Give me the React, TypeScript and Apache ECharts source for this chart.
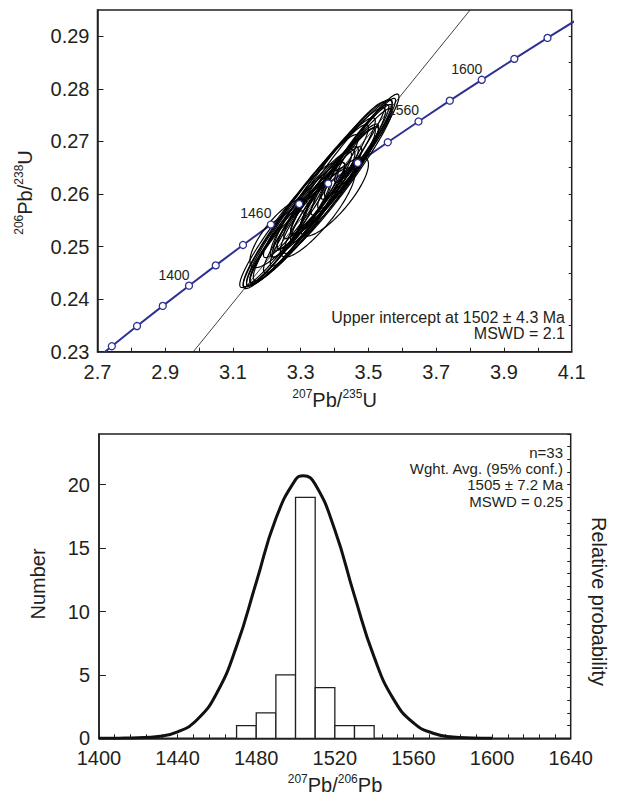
import React, { useEffect, useRef } from 'react';
import * as echarts from 'echarts';

// ---------- Concordia diagram data ----------
const concordiaAges = [1320, 1340, 1360, 1380, 1400, 1420, 1440, 1460, 1480, 1500, 1520, 1540, 1560, 1580, 1600, 1620, 1640, 1660];
const concordiaX = [2.6693, 2.7423, 2.8167, 2.8927, 2.9701, 3.0491, 3.1296, 3.2118, 3.2955, 3.381, 3.4681, 3.557, 3.6477, 3.7401, 3.8344, 3.9306, 4.0286, 4.1287];
const concordiaY = [0.22723, 0.23104, 0.23488, 0.23871, 0.24256, 0.24642, 0.2503, 0.25418, 0.25808, 0.26199, 0.26591, 0.26984, 0.27379, 0.27775, 0.28172, 0.2857, 0.28969, 0.2937];
const labeledAges = [1400, 1460, 1560, 1600];

const discordiaX = [2.983, 3.8];
const discordiaY = [0.23, 0.295];

// error ellipses: centre, 2-sigma half extents, correlation
const ellipseCx = [3.35, 3.235, 3.4, 3.35, 3.42, 3.31, 3.38, 3.29, 3.45, 3.27, 3.37, 3.32, 3.41, 3.46, 3.24, 3.35, 3.3, 3.39, 3.4, 3.33, 3.26, 3.48, 3.36, 3.31, 3.44, 3.28, 3.4, 3.37, 3.23, 3.49, 3.34, 3.41, 3.3];
const ellipseCy = [0.26, 0.2525, 0.2595, 0.2565, 0.265, 0.256, 0.2622, 0.2545, 0.2665, 0.2528, 0.2605, 0.257, 0.263, 0.268, 0.251, 0.2592, 0.2552, 0.2612, 0.2645, 0.2585, 0.254, 0.2692, 0.2612, 0.255, 0.265, 0.2555, 0.2618, 0.2598, 0.25, 0.2702, 0.2588, 0.2625, 0.2568];
const ellipseSx = [0.22, 0.085, 0.1, 0.11, 0.15, 0.15, 0.17, 0.14, 0.12, 0.12, 0.1, 0.09, 0.11, 0.1, 0.1, 0.08, 0.085, 0.09, 0.15, 0.19, 0.14, 0.11, 0.14, 0.12, 0.09, 0.09, 0.13, 0.16, 0.08, 0.09, 0.11, 0.16, 0.17];
const ellipseSy = [0.018, 0.0065, 0.0075, 0.0085, 0.0128, 0.0125, 0.0142, 0.0115, 0.0105, 0.01, 0.0085, 0.0075, 0.0095, 0.009, 0.0085, 0.0068, 0.0072, 0.0078, 0.013, 0.016, 0.0118, 0.0098, 0.012, 0.01, 0.0078, 0.0076, 0.011, 0.0135, 0.0068, 0.008, 0.0092, 0.0138, 0.0145];
const ellipseRho = [0.965, 0.8, 0.82, 0.86, 0.95, 0.94, 0.95, 0.94, 0.95, 0.94, 0.93, 0.93, 0.94, 0.95, 0.94, 0.93, 0.93, 0.93, 0.96, 0.96, 0.95, 0.95, 0.95, 0.94, 0.93, 0.93, 0.95, 0.96, 0.93, 0.95, 0.94, 0.965, 0.96];

// ---------- Histogram data ----------
const binStarts = [1470, 1480, 1490, 1500, 1510, 1520, 1530];
const binEnds = [1480, 1490, 1500, 1510, 1520, 1530, 1540];
const binCounts = [1, 2, 5, 19, 4, 1, 1];

const probAges = [1400, 1410, 1420, 1430, 1440, 1450, 1460, 1470, 1480, 1490, 1500, 1504, 1510, 1520, 1530, 1540, 1550, 1560, 1570, 1580, 1590, 1600];
const probValues = [0.0, 0.01, 0.04, 0.15, 0.51, 1.48, 3.59, 7.27, 12.29, 17.33, 20.4, 20.7, 20.04, 16.42, 11.23, 6.4, 3.05, 1.21, 0.4, 0.11, 0.03, 0.0];

const FONT = '"Liberation Sans", Arial, Helvetica, sans-serif';
const INK = '#231F20';
const BLUE = '#2E3192';

export default function App() {
  const ref = useRef<HTMLDivElement>(null);

  useEffect(() => {
    document.body.style.margin = '0';
    if (!ref.current) return;
    const chart = echarts.init(ref.current, undefined, { renderer: 'svg' });

    const concLine = concordiaX.map((x, i) => [x, concordiaY[i]]);
    const markers = concordiaAges
      .map((age, i) => ({ age, x: concordiaX[i], y: concordiaY[i] }))
      .filter((d) => d.x >= 2.7 && d.x <= 4.1 && d.y >= 0.23 && d.y <= 0.295)
      .map((d) => ({
        value: [d.x, d.y],
        label: labeledAges.includes(d.age) ? { show: true, formatter: String(d.age) } : { show: false },
      }));
    const ellipses = ellipseCx.map((cx, i) => [cx, ellipseCy[i], ellipseSx[i], ellipseSy[i], ellipseRho[i]]);
    const bins = binStarts.map((s, i) => [s, binEnds[i], binCounts[i]]);
    const prob = probAges.map((a, i) => [a, probValues[i]]);

    const axisLabel = (margin: number, fmt?: (v: number) => string) => ({
      fontSize: 20,
      fontFamily: FONT,
      color: INK,
      margin,
      formatter: fmt,
      showMaxLabel: false,
    });
    const line = { show: true, lineStyle: { color: INK, width: 1.5 } };
    const supRich = {
      s: { fontSize: 12, fontFamily: FONT, fill: INK, lineHeight: 12, verticalAlign: 'top' },
      m: { fontSize: 20, fontFamily: FONT, fill: INK, lineHeight: 24 },
    };

    const option: any = {
      animation: false,
      grid: [
        { left: 97.5, top: 10, width: 474.2, height: 341.7, show: true, borderColor: INK, borderWidth: 1.5, backgroundColor: 'transparent' },
        { left: 99, top: 434, width: 471.7, height: 304.3, show: true, borderColor: INK, borderWidth: 1.5, backgroundColor: 'transparent' },
      ],
      xAxis: [
        {
          type: 'value', gridIndex: 0, min: 2.7, max: 4.1, interval: 0.2,
          axisLine: line,
          axisTick: { show: true, inside: true, length: 4, lineStyle: { color: INK, width: 1 } },
          minorTick: { show: true, splitNumber: 2, length: 4, lineStyle: { color: INK, width: 1 } },
          axisLabel: { ...axisLabel(10, (v: number) => v.toFixed(1)), showMaxLabel: true },
          splitLine: { show: false },
        },
        {
          type: 'value', gridIndex: 1, min: 1400, max: 1640, interval: 40,
          axisLine: line,
          axisTick: { show: true, inside: true, length: 4, lineStyle: { color: INK, width: 1 } },
          minorTick: { show: true, splitNumber: 5, length: 4, lineStyle: { color: INK, width: 1 } },
          axisLabel: { ...axisLabel(10, (v: number) => String(Math.round(v))), showMaxLabel: true },
          splitLine: { show: false },
        },
      ],
      yAxis: [
        {
          type: 'value', gridIndex: 0, min: 0.23, max: 0.295, interval: 0.01,
          axisLine: line,
          axisTick: { show: true, inside: true, length: 6, lineStyle: { color: INK, width: 1 } },
          axisLabel: axisLabel(8, (v: number) => v.toFixed(2)),
          splitLine: { show: false },
        },
        {
          type: 'value', gridIndex: 0, min: 0.23, max: 0.295, interval: 0.005,
          axisLine: { show: false },
          axisTick: { show: true, inside: true, length: 3, lineStyle: { color: INK, width: 1 } },
          axisLabel: { show: false },
          splitLine: { show: false },
        },
        {
          type: 'value', gridIndex: 1, min: 0, max: 24, interval: 5,
          axisLine: line,
          axisTick: { show: true, inside: true, length: 7, lineStyle: { color: INK, width: 1 } },
          axisLabel: axisLabel(9, (v: number) => String(Math.round(v))),
          splitLine: { show: false },
        },
        {
          type: 'value', gridIndex: 1, min: 0, max: 24, interval: 1,
          axisLine: { show: false },
          axisTick: { show: true, inside: true, length: 3.5, lineStyle: { color: INK, width: 1 } },
          axisLabel: { show: false },
          splitLine: { show: false },
        },
      ],
      series: [
        {
          type: 'line',
          xAxisIndex: 0,
          yAxisIndex: 0,
          data: concLine,
          symbol: 'none',
          clip: true,
          lineStyle: { color: BLUE, width: 2 },
          z: 2,
          silent: true,
        },
        {
          type: 'custom',
          xAxisIndex: 0,
          yAxisIndex: 0,
          data: ellipses,
          encode: { x: 0, y: 1 },
          silent: true,
          z: 3,
          renderItem: (_params: any, api: any) => {
            const cx = api.value(0), cy = api.value(1), sx = api.value(2), sy = api.value(3), r = api.value(4);
            const pts: number[][] = [];
            const n = 140;
            const q = Math.sqrt(1 - r * r);
            for (let k = 0; k < n; k++) {
              const t = (k / n) * Math.PI * 2;
              pts.push(api.coord([cx + sx * Math.cos(t), cy + sy * (r * Math.cos(t) + q * Math.sin(t))]));
            }
            return { type: 'polygon', shape: { points: pts }, style: { fill: 'none', stroke: '#000', lineWidth: 1.2 } };
          },
        },
        {
          type: 'line',
          xAxisIndex: 0,
          yAxisIndex: 0,
          data: discordiaX.map((x, i) => [x, discordiaY[i]]),
          symbol: 'none',
          lineStyle: { color: '#111', width: 0.8 },
          z: 3,
          silent: true,
        },
        {
          type: 'scatter',
          xAxisIndex: 0,
          yAxisIndex: 0,
          data: markers,
          symbol: 'circle',
          symbolSize: 7,
          itemStyle: { color: '#fff', borderColor: BLUE, borderWidth: 1.3, opacity: 1 },
          label: { position: 'top', distance: 0, offset: [-15, 0], fontSize: 14, fontFamily: FONT, color: INK },
          z: 5,
          silent: true,
        },
        {
          type: 'custom',
          xAxisIndex: 1,
          yAxisIndex: 2,
          data: bins,
          encode: { x: [0, 1], y: 2 },
          silent: true,
          z: 2,
          renderItem: (_params: any, api: any) => {
            const p0 = api.coord([api.value(0), api.value(2)]);
            const p1 = api.coord([api.value(1), 0]);
            return {
              type: 'rect',
              shape: { x: p0[0], y: p0[1], width: p1[0] - p0[0], height: p1[1] - p0[1] },
              style: { fill: '#fff', stroke: INK, lineWidth: 1.3 },
            };
          },
        },
        {
          type: 'line',
          xAxisIndex: 1,
          yAxisIndex: 2,
          data: prob,
          smooth: true,
          symbol: 'none',
          lineStyle: { color: '#111', width: 3 },
          z: 3,
          silent: true,
        },
      ],
      graphic: [
        {
          type: 'text', x: 565, y: 310, silent: true,
          style: { text: 'Upper intercept at 1502 ± 4.3 Ma\nMSWD = 2.1', fontSize: 16, fontFamily: FONT, fill: INK, align: 'right', verticalAlign: 'top', lineHeight: 15.5 },
        },
        {
          type: 'text', x: 563, y: 444.2, silent: true,
          style: { text: 'n=33\nWght. Avg. (95% conf.)\n1505 ± 7.2 Ma\nMSWD = 0.25', fontSize: 15, fontFamily: FONT, fill: INK, align: 'right', verticalAlign: 'top', lineHeight: 16.3 },
        },
        {
          type: 'text', x: 334.6, y: 400, silent: true,
          style: { text: '{s|207}{m|Pb/}{s|235}{m|U}', rich: supRich, align: 'center', verticalAlign: 'middle' },
        },
        {
          type: 'text', x: 25, y: 192.5, rotation: Math.PI / 2, silent: true,
          style: { text: '{s|206}{m|Pb/}{s|238}{m|U}', rich: supRich, align: 'center', verticalAlign: 'middle' },
        },
        {
          type: 'text', x: 335, y: 785, silent: true,
          style: { text: '{s|207}{m|Pb/}{s|206}{m|Pb}', rich: supRich, align: 'center', verticalAlign: 'middle' },
        },
        {
          type: 'text', x: 38, y: 584, rotation: Math.PI / 2, silent: true,
          style: { text: 'Number', fontSize: 20, fontFamily: FONT, fill: INK, align: 'center', verticalAlign: 'middle' },
        },
        {
          type: 'text', x: 599, y: 601.5, rotation: -Math.PI / 2, silent: true,
          style: { text: 'Relative probability', fontSize: 20, fontFamily: FONT, fill: INK, align: 'center', verticalAlign: 'middle' },
        },
      ],
    };

    chart.setOption(option);
    return () => chart.dispose();
  }, []);

  return <div ref={ref} style={{ position: 'absolute', left: 0, top: 0, width: 623, height: 796, background: '#fff' }} />;
}
